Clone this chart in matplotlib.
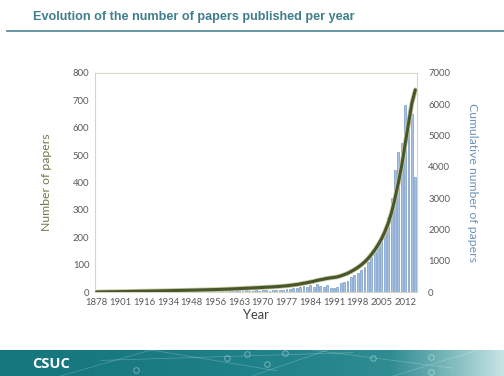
import numpy as np
import matplotlib.pyplot as plt
from matplotlib.colors import LinearSegmentedColormap

# years that have papers (early years are sparse)
early_years = [1878, 1882, 1885, 1889, 1893, 1896, 1899,
               1901, 1903, 1905, 1907, 1909, 1911, 1914,
               1916, 1918, 1921, 1923, 1926, 1929, 1931,
               1934, 1936, 1938, 1940, 1942, 1944, 1946,
               1948, 1949, 1950, 1951, 1952, 1953, 1955]
years = early_years + list(range(1956, 2016))

early_papers = [1, 2, 1, 2, 2, 1, 2,
                2, 1, 2, 2, 3, 2, 2,
                2, 1, 2, 3, 2, 2, 3,
                2, 2, 3, 2, 2, 3, 2,
                3, 2, 3, 3, 2, 3, 3]
papers_1956_on = [3, 4, 3, 4, 5, 4, 5, 6, 5, 6,
                  4, 5, 6, 5, 7, 6, 5, 6, 7, 8,
                  9, 10, 12, 15, 14, 18, 22, 17, 24, 20,
                  30, 22, 20, 24, 16, 14, 18, 32, 38, 42,
                  56, 62, 68, 80, 92, 110, 128, 145, 165, 190,
                  230, 275, 343, 446, 512, 545, 683, 665, 650, 420]
papers = early_papers + papers_1956_on
cumulative = np.cumsum(papers)

left_ticks = list(range(0, 801, 100))
right_ticks = list(range(0, 7001, 1000))

x = np.arange(len(years))

fig = plt.figure(figsize=(5.04, 3.76), dpi=100)
fig.patch.set_facecolor('white')

# title and rule
fig.text(33 / 504, 1 - 17 / 376, 'Evolution of the number of papers published per year',
         fontsize=9.1, fontweight='bold', color='#3f7f8c', family='Liberation Sans',
         va='center', ha='left')
fig.add_artist(plt.Line2D([7 / 504, 1], [1 - 31 / 376, 1 - 31 / 376],
                          color='#5b8e9c', lw=1.3, transform=fig.transFigure))

ax = fig.add_axes([95 / 504, 1 - 292 / 376, 322 / 504, 219 / 376])
ax.bar(x, papers, width=0.55, color='#a9c1e0', edgecolor='#5f89bf', linewidth=0.4)
ax.set_xlim(-0.5, len(years) - 0.5)
ax.set_ylim(0, 800)
ax.set_yticks(left_ticks)
ax.set_xticks(x[::7])
ax.set_xticklabels([str(y) for y in years[::7]])
ax.tick_params(length=0, labelsize=6.8, labelcolor='#595959', pad=4)
for sp in ax.spines.values():
    sp.set_color('#d6d6c8')
    sp.set_linewidth(0.8)
ax.set_ylabel('Number of papers', fontsize=8.8, color='#75764a', labelpad=15, family='Lato')
ax.set_xlabel('Year', fontsize=9.3, color='#404040', labelpad=2, family='Lato')
for lbl in ax.get_xticklabels() + ax.get_yticklabels():
    lbl.set_family('Lato')

ax2 = ax.twinx()
ax2.plot(x, cumulative, color='#c9c9a0', lw=3.4, solid_capstyle='round')
ax2.plot(x, cumulative, color='#47562b', lw=2.2, solid_capstyle='round')
ax2.set_ylim(0, 7000)
ax2.set_yticks(right_ticks)
ax2.tick_params(length=0, labelsize=6.8, labelcolor='#595959', pad=8)
for lbl in ax2.get_yticklabels():
    lbl.set_family('Lato')
for sp in ax2.spines.values():
    sp.set_visible(False)
ax2.set_ylabel('Cumulative number of papers', fontsize=8.8, color='#6e93bb',
               rotation=270, labelpad=20, family='Lato')

# footer band
fax = fig.add_axes([0, 0, 1, 26 / 376])
cmap = LinearSegmentedColormap.from_list('band', ['#17777f', '#1f8189', '#2f8c92', '#c7e4e4'])
fax.imshow(np.linspace(0, 1, 256).reshape(1, -1) ** 1.6, aspect='auto', cmap=cmap,
           extent=[0, 1, 0, 1])
for x0, y0, x1, y1 in [(0.12, 0, 0.3, 1), (0.3, 1, 0.55, 0.2), (0.5, 0, 0.65, 1),
                       (0.62, 1, 0.9, 0.3), (0.78, 0, 0.95, 1), (0.2, 0.6, 0.7, 0.9)]:
    fax.plot([x0, x1], [y0, y1], color='white', lw=0.5, alpha=0.25)
for cx, cy in [(0.27, 0.25), (0.45, 0.7), (0.49, 0.85), (0.53, 0.45), (0.565, 0.9),
               (0.74, 0.7), (0.855, 0.75), (0.855, 0.15)]:
    fax.plot(cx, cy, 'o', ms=4, mfc='none', mec='white', mew=0.6, alpha=0.45)
fax.set_xlim(0, 1)
fax.set_ylim(0, 1)
fax.axis('off')
fax.text(32 / 504, 0.45, 'CSUC', color='white', fontsize=10.5, fontweight='bold',
         va='center', ha='left', family='Open Sans')

fig.savefig('out.png', dpi=100)
